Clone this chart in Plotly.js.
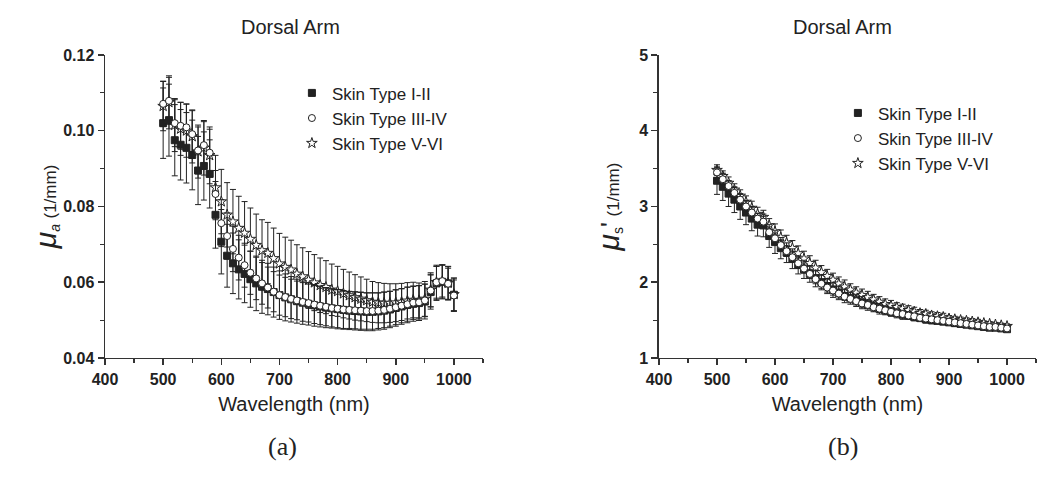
<!DOCTYPE html>
<html>
<head>
<meta charset="utf-8">
<script src="https://cdn.plot.ly/plotly-3.0.1.min.js"></script>
<style>html,body{margin:0;padding:0;background:#fff;}#chart{width:1050px;height:477px;}</style>
</head>
<body>
<div id="chart"></div>
<script>
// ---- data ----
const wavelength = [500,510,520,530,540,550,560,570,580,590,600,610,620,630,640,650,660,670,680,690,700,710,720,730,740,750,760,770,780,790,800,810,820,830,840,850,860,870,880,890,900,910,920,930,940,950,960,970,980,990,1000];

const seriesNames = ["Skin Type I-II", "Skin Type III-IV", "Skin Type V-VI"];

// (a) absorption coefficient mu_a (1/mm)
const muA_I_II = [0.1020,0.1028,0.0975,0.0963,0.0955,0.0936,0.0895,0.0907,0.0886,0.0778,0.0707,0.0670,0.0650,0.0634,0.0622,0.0608,0.0597,0.0588,0.0582,0.0574,0.0566,0.0560,0.0555,0.0550,0.0546,0.0543,0.0539,0.0536,0.0533,0.0531,0.0529,0.0527,0.0525,0.0524,0.0523,0.0522,0.0522,0.0523,0.0525,0.0528,0.0532,0.0536,0.0540,0.0543,0.0545,0.0549,0.0574,0.0597,0.0601,0.0597,0.0567];
const muA_III_IV = [0.1071,0.1079,0.1020,0.1013,0.1009,0.0991,0.0948,0.0962,0.0942,0.0833,0.0756,0.0722,0.0688,0.0665,0.0645,0.0625,0.0610,0.0597,0.0586,0.0575,0.0566,0.0561,0.0556,0.0552,0.0548,0.0545,0.0541,0.0538,0.0535,0.0532,0.0530,0.0528,0.0527,0.0526,0.0525,0.0524,0.0524,0.0525,0.0527,0.0530,0.0534,0.0538,0.0542,0.0546,0.0547,0.0552,0.0578,0.0600,0.0603,0.0596,0.0565];
const muA_V_VI = [0.1065,0.1075,0.1015,0.1005,0.1000,0.0985,0.0945,0.0955,0.0935,0.0850,0.0813,0.0778,0.0760,0.0743,0.0730,0.0714,0.0698,0.0684,0.0677,0.0663,0.0649,0.0640,0.0633,0.0622,0.0615,0.0606,0.0599,0.0592,0.0587,0.0580,0.0576,0.0570,0.0565,0.0560,0.0556,0.0552,0.0548,0.0546,0.0545,0.0545,0.0546,0.0548,0.0551,0.0553,0.0552,0.0556,0.0580,0.0600,0.0602,0.0598,0.0568];

const muAErr_I_II = [0.0093,0.0095,0.0094,0.0093,0.0093,0.0092,0.0090,0.0090,0.0090,0.0088,0.0085,0.0083,0.0080,0.0078,0.0076,0.0074,0.0072,0.0070,0.0068,0.0066,0.0064,0.0062,0.0060,0.0058,0.0057,0.0056,0.0055,0.0054,0.0053,0.0052,0.0052,0.0051,0.0050,0.0050,0.0050,0.0050,0.0050,0.0049,0.0049,0.0048,0.0048,0.0047,0.0047,0.0046,0.0046,0.0046,0.0045,0.0045,0.0045,0.0044,0.0044];
const muAErr_III_IV = [0.0060,0.0062,0.0062,0.0062,0.0062,0.0062,0.0062,0.0062,0.0062,0.0062,0.0062,0.0061,0.0060,0.0059,0.0058,0.0057,0.0056,0.0055,0.0054,0.0053,0.0053,0.0052,0.0052,0.0051,0.0051,0.0050,0.0050,0.0050,0.0050,0.0050,0.0050,0.0050,0.0049,0.0049,0.0049,0.0048,0.0048,0.0047,0.0047,0.0046,0.0046,0.0045,0.0045,0.0044,0.0044,0.0043,0.0043,0.0042,0.0042,0.0041,0.0041];
const muAErr_V_VI = [0.0065,0.0070,0.0070,0.0070,0.0070,0.0070,0.0070,0.0072,0.0075,0.0085,0.0085,0.0085,0.0085,0.0084,0.0083,0.0082,0.0082,0.0081,0.0081,0.0080,0.0080,0.0079,0.0078,0.0077,0.0076,0.0075,0.0074,0.0072,0.0070,0.0068,0.0066,0.0064,0.0062,0.0060,0.0058,0.0056,0.0054,0.0053,0.0052,0.0051,0.0050,0.0049,0.0048,0.0047,0.0046,0.0046,0.0045,0.0045,0.0044,0.0044,0.0043];

// (b) reduced scattering coefficient mu_s' (1/mm)
const muS_I_II = [3.34,3.26,3.17,3.09,3.00,2.92,2.84,2.76,2.75,2.61,2.53,2.45,2.39,2.31,2.23,2.17,2.11,2.05,2.00,1.95,1.90,1.86,1.82,1.79,1.76,1.73,1.70,1.68,1.65,1.63,1.61,1.59,1.57,1.56,1.54,1.53,1.51,1.50,1.49,1.48,1.47,1.46,1.45,1.44,1.43,1.42,1.41,1.40,1.40,1.39,1.38];
const muS_III_IV = [3.45,3.36,3.27,3.18,3.09,3.00,2.92,2.84,2.80,2.66,2.58,2.49,2.41,2.33,2.25,2.18,2.11,2.04,1.98,1.93,1.89,1.85,1.81,1.78,1.75,1.72,1.70,1.67,1.65,1.63,1.61,1.59,1.58,1.56,1.55,1.53,1.52,1.51,1.50,1.49,1.48,1.47,1.46,1.45,1.44,1.43,1.42,1.41,1.41,1.40,1.39];
const muS_V_VI = [3.48,3.40,3.31,3.22,3.14,3.06,2.98,2.90,2.86,2.75,2.67,2.59,2.52,2.45,2.38,2.31,2.25,2.19,2.13,2.08,2.03,1.98,1.94,1.90,1.86,1.83,1.80,1.77,1.74,1.71,1.69,1.67,1.65,1.63,1.61,1.59,1.58,1.56,1.55,1.54,1.52,1.51,1.50,1.49,1.48,1.47,1.46,1.45,1.44,1.43,1.42];

const muSErr_I_II = [0.18,0.18,0.17,0.17,0.17,0.16,0.16,0.15,0.15,0.15,0.15,0.14,0.13,0.13,0.12,0.12,0.11,0.11,0.10,0.10,0.10,0.09,0.09,0.08,0.08,0.08,0.07,0.07,0.07,0.06,0.06,0.06,0.06,0.05,0.05,0.05,0.05,0.05,0.04,0.04,0.04,0.04,0.04,0.04,0.03,0.03,0.03,0.03,0.03,0.03,0.03];
const muSErr_III_IV = [0.07,0.07,0.07,0.07,0.07,0.07,0.07,0.07,0.07,0.07,0.07,0.07,0.07,0.07,0.07,0.06,0.06,0.06,0.06,0.06,0.06,0.06,0.05,0.05,0.05,0.05,0.05,0.05,0.05,0.05,0.05,0.04,0.04,0.04,0.04,0.04,0.04,0.04,0.04,0.04,0.03,0.03,0.03,0.03,0.03,0.03,0.03,0.03,0.03,0.03,0.03];
const muSErr_V_VI = [0.07,0.07,0.08,0.08,0.08,0.08,0.09,0.09,0.09,0.09,0.10,0.10,0.10,0.10,0.10,0.10,0.10,0.10,0.09,0.09,0.09,0.09,0.09,0.08,0.08,0.08,0.08,0.07,0.07,0.07,0.07,0.06,0.06,0.06,0.06,0.05,0.05,0.05,0.05,0.05,0.04,0.04,0.04,0.04,0.04,0.04,0.03,0.03,0.03,0.03,0.03];

const xTickVals = [400,500,600,700,800,900,1000];
const yTickValsA = [0.04,0.06,0.08,0.10,0.12];
const yTickTextA = ["0.04","0.06","0.08","0.10","0.12"];
const yTickValsB = [1,2,3,4,5];

// ---- styles ----
const INK = "#222";
const SANS = "Liberation Sans, Arial, Helvetica, sans-serif";
const styles = [
  {symbol: "square", size: 7, color: INK, line: {color: INK, width: 1}},
  {symbol: "circle", size: 7, color: "#fff", line: {color: INK, width: 1}},
  {symbol: "star", size: 8, color: "#fff", line: {color: INK, width: 1}}
];

function mk(x, y, err, idx, xa, ya, legendId) {
  return {
    type: "scatter", mode: "markers", x: x, y: y,
    name: seriesNames[idx], xaxis: xa, yaxis: ya, legend: legendId,
    legendrank: idx + 1,
    marker: styles[idx],
    error_y: {type: "data", array: err, visible: true, color: INK, thickness: 1, width: 3},
    hoverinfo: "x+y"
  };
}

const traces = [
  mk(wavelength, muA_V_VI, muAErr_V_VI, 2, "x", "y", "legend"),
  mk(wavelength, muA_I_II, muAErr_I_II, 0, "x", "y", "legend"),
  mk(wavelength, muA_III_IV, muAErr_III_IV, 1, "x", "y", "legend"),
  mk(wavelength, muS_V_VI, muSErr_V_VI, 2, "x2", "y2", "legend2"),
  mk(wavelength, muS_I_II, muSErr_I_II, 0, "x2", "y2", "legend2"),
  mk(wavelength, muS_III_IV, muSErr_III_IV, 1, "x2", "y2", "legend2")
];

const tickFont = {family: SANS, size: 16, color: INK, weight: "bold"};
const titleFont = {family: SANS, size: 20, color: INK};

function xAxis(domain, anchor) {
  return {
    domain: domain, anchor: anchor, range: [400, 1050], automargin: false,
    tickvals: xTickVals, ticks: "outside", ticklen: 6, tickwidth: 1.5, tickcolor: "#333",
    minor: {dtick: 50, tick0: 400, ticks: "outside", ticklen: 4, tickwidth: 1.2, tickcolor: "#333"},
    showline: true, linecolor: "#333", linewidth: 1.5, showgrid: false, zeroline: false,
    tickfont: tickFont,
    title: {text: "Wavelength (nm)", font: titleFont, standoff: 10}
  };
}

const layout = {
  width: 1050, height: 477,
  margin: {l: 0, r: 0, t: 0, b: 0},
  paper_bgcolor: "#fff", plot_bgcolor: "#fff",
  showlegend: true,
  xaxis: xAxis([0.1, 0.46], "y"),
  xaxis2: xAxis([0.6276, 0.9867], "y2"),
  yaxis: {
    domain: [0.2495, 0.8847], anchor: "x", range: [0.04, 0.12], automargin: false,
    tickvals: yTickValsA, ticktext: yTickTextA,
    ticks: "outside", ticklen: 6, tickwidth: 1.5, tickcolor: "#333",
    minor: {dtick: 0.01, tick0: 0.04, ticks: "outside", ticklen: 4, tickwidth: 1.2, tickcolor: "#333"},
    showline: true, linecolor: "#333", linewidth: 1.5, showgrid: false, zeroline: false,
    tickfont: tickFont,
    title: {text: '<i><span style="font-size:30px">μ</span><sub>a</sub></i> <span style="font-size:17px">(1/mm)</span>', font: titleFont, standoff: 1}
  },
  yaxis2: {
    domain: [0.2495, 0.8847], anchor: "x2", range: [1, 5], automargin: false,
    tickvals: yTickValsB,
    ticks: "outside", ticklen: 6, tickwidth: 1.5, tickcolor: "#333",
    minor: {dtick: 0.5, tick0: 1, ticks: "outside", ticklen: 4, tickwidth: 1.2, tickcolor: "#333"},
    showline: true, linecolor: "#333", linewidth: 1.5, showgrid: false, zeroline: false,
    tickfont: tickFont,
    title: {text: '<i><span style="font-size:30px">μ</span></i><sub>s</sub><span style="font-size:26px">\'</span> <span style="font-size:17px">(1/mm)</span>', font: titleFont, standoff: 14}
  },
  legend: {
    x: 0.278, y: 0.842, xanchor: "left", yanchor: "top",
    font: {family: SANS, size: 17, color: INK}, bgcolor: "rgba(0,0,0,0)",
    tracegroupgap: 0, itemclick: false
  },
  legend2: {
    x: 0.798, y: 0.800, xanchor: "left", yanchor: "top",
    font: {family: SANS, size: 17, color: INK}, bgcolor: "rgba(0,0,0,0)",
    tracegroupgap: 0, itemclick: false
  },
  annotations: [
    {text: "Dorsal Arm", xref: "paper", yref: "paper", x: 0.277, y: 0.943, showarrow: false, font: titleFont, xanchor: "center", yanchor: "middle"},
    {text: "Dorsal Arm", xref: "paper", yref: "paper", x: 0.802, y: 0.943, showarrow: false, font: titleFont, xanchor: "center", yanchor: "middle"},
    {text: "(a)", xref: "paper", yref: "paper", x: 0.2686, y: 0.063, showarrow: false, font: {family: "Liberation Serif, Times New Roman, serif", size: 26, color: INK}, xanchor: "center", yanchor: "middle"},
    {text: "(b)", xref: "paper", yref: "paper", x: 0.803, y: 0.063, showarrow: false, font: {family: "Liberation Serif, Times New Roman, serif", size: 26, color: INK}, xanchor: "center", yanchor: "middle"}
  ]
};

Plotly.newPlot("chart", traces, layout, {staticPlot: true, displayModeBar: false});
</script>
</body>
</html>
